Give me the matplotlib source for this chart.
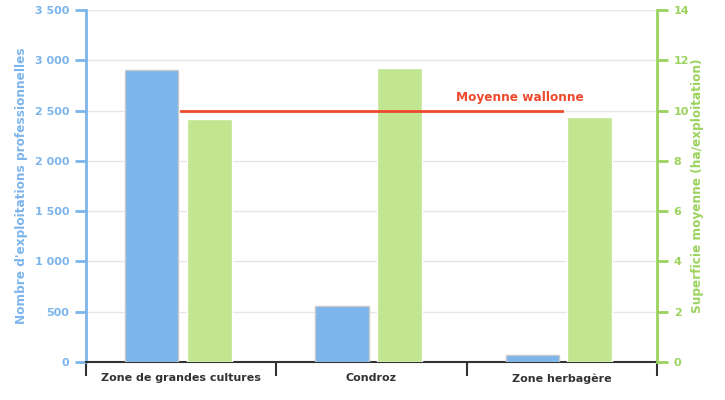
import numpy as np
import matplotlib
matplotlib.use('Agg')
from matplotlib import pyplot as plt
from matplotlib.ticker import FuncFormatter

# data
zones = ['Zone de grandes cultures', 'Condroz', 'Zone herbagère']
nb_exploitations = [2900, 555, 70]
superficie = [9.65, 11.7, 9.75]
moyenne_wallonne = 10.0

blue = '#7cb5ec'
green = '#c2e68f'
green_axis = '#9bd35e'
red = '#ee4a2e'

plt.rcParams['font.family'] = 'DejaVu Sans'

fig = plt.figure(figsize=(7.25, 4), dpi=100)
ax = fig.add_axes([86/725, 38/400, 571/725, 352/400])
ax2 = ax.twinx()

x = np.arange(len(zones))
ax.bar(x - 0.155, nb_exploitations, width=0.279, color=blue,
       edgecolor='#c8c8c8', linewidth=1, zorder=3)
ax2.bar(x + 0.147, superficie, width=0.235, color=green,
        edgecolor='white', linewidth=1, zorder=3)
ax2.plot([x[0], x[-1]], [moyenne_wallonne, moyenne_wallonne], color=red, lw=2, zorder=4)
ax2.text(1.78, 10.5, 'Moyenne wallonne', color=red, fontsize=8.7, fontweight='bold',
         ha='center', va='center')

ax.set_xlim(-0.5, 2.5)
ax.set_ylim(0, 3500)
ax2.set_ylim(0, 14)
ax.set_yticks(np.arange(0, 3501, 500))
ax2.set_yticks(np.arange(0, 15, 2))
ax.yaxis.set_major_formatter(FuncFormatter(lambda v, p: f'{int(v):,}'.replace(',', ' ')))

ax.grid(axis='y', color='#e6e6e6', lw=1, zorder=0)
ax.set_axisbelow(True)

# x axis: labels centered, ticks at boundaries
ax.set_xticks(x)
ax.set_xticklabels(zones, fontsize=8, fontweight='bold', color='#333333')
ax.tick_params(axis='x', which='major', length=0, pad=8)
ax.set_xticks([-0.5, 0.5, 1.5, 2.5], minor=True)
ax.tick_params(axis='x', which='minor', length=10, width=1.5, color='#333333')

for a in (ax, ax2):
    a.spines['top'].set_visible(False)
ax.spines['right'].set_visible(False)
ax2.spines['left'].set_visible(False)
ax2.spines['bottom'].set_visible(False)
ax.spines['bottom'].set_color('#333333')
ax.spines['bottom'].set_linewidth(1.5)
ax.spines['left'].set_color(blue)
ax.spines['left'].set_linewidth(2)
ax2.spines['right'].set_color(green_axis)
ax2.spines['right'].set_linewidth(2)

ax.tick_params(axis='y', colors=blue, length=8, width=2, labelsize=8, pad=4)
for t in ax.get_yticklabels():
    t.set_fontweight('bold')
ax2.tick_params(axis='y', colors=green_axis, length=8, width=2, labelsize=8, pad=4)
for t in ax2.get_yticklabels():
    t.set_fontweight('bold')

ax.set_ylabel("Nombre d'exploitations professionnelles", color=blue, fontsize=8.7,
              fontweight='bold', labelpad=5)
ax2.set_ylabel('Superficie moyenne (ha/exploitation)', color=green_axis, fontsize=8.7,
               fontweight='bold', labelpad=1.5)

fig.savefig('out.png', dpi=100)
